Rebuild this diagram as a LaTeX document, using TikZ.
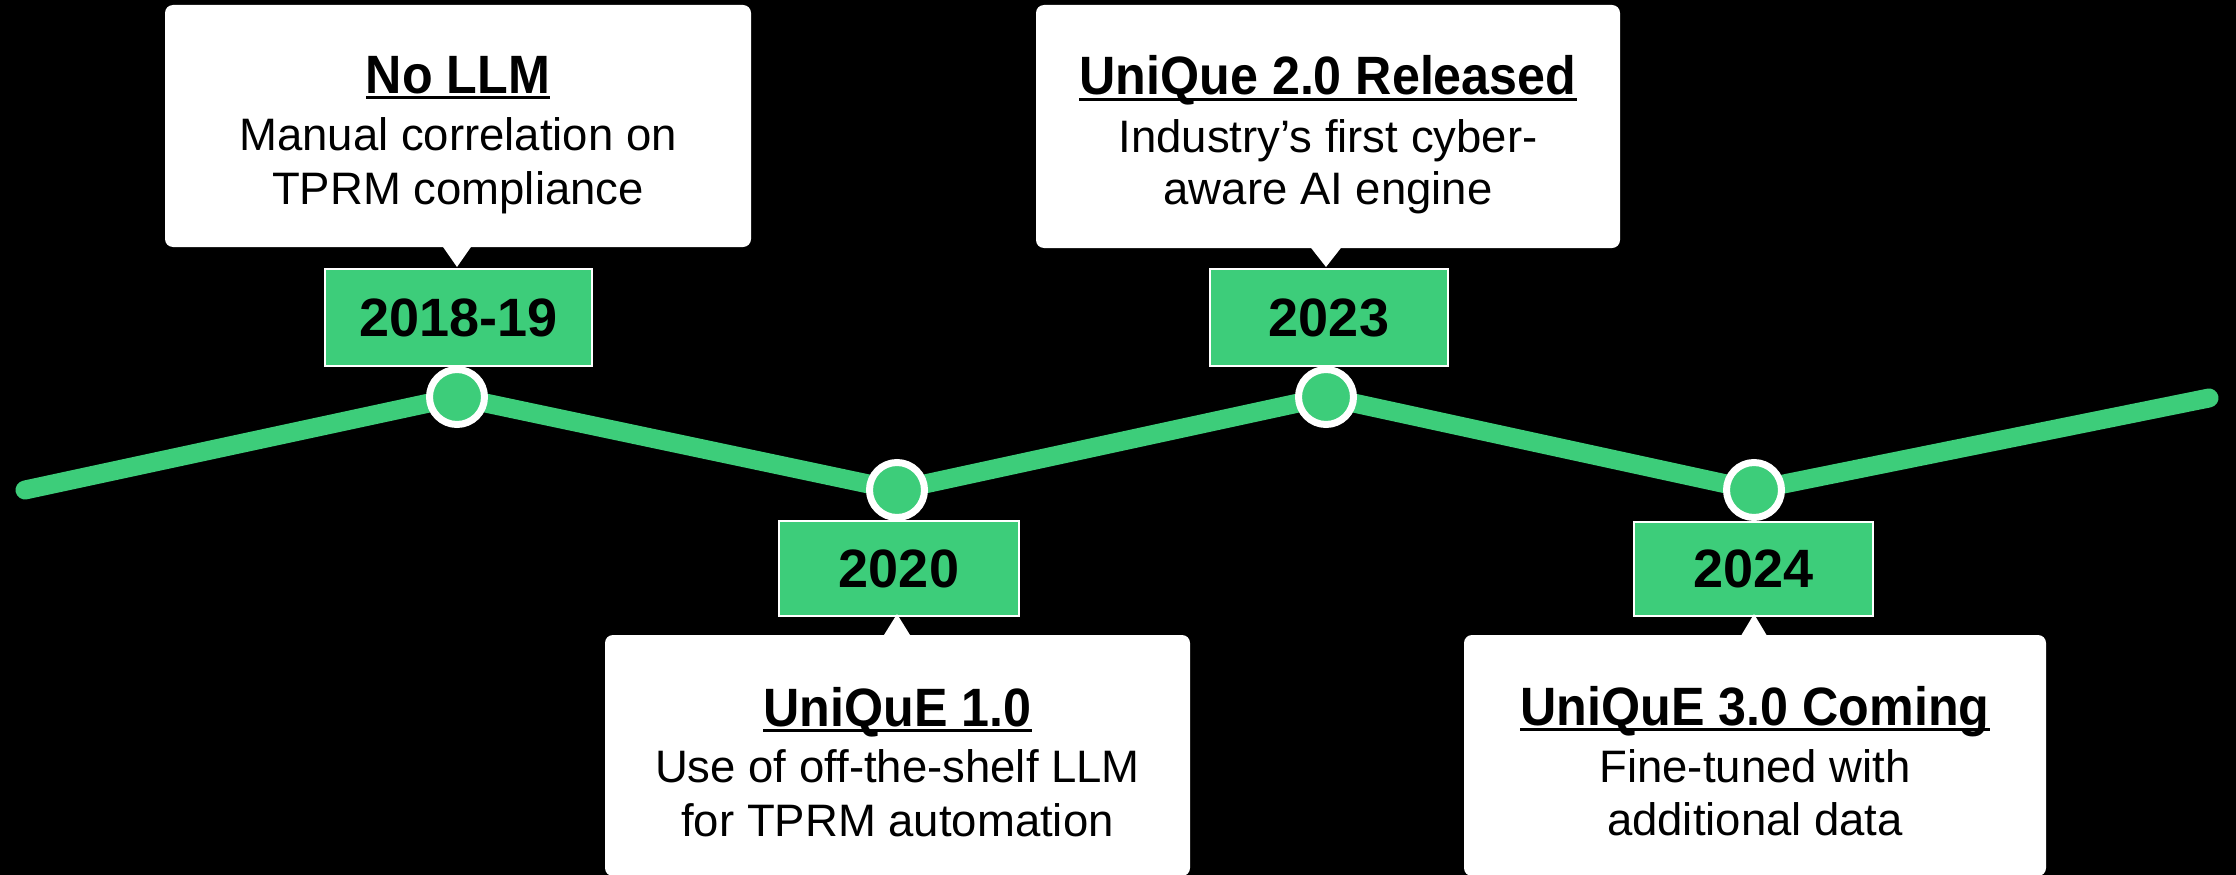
\documentclass[tikz,border=0pt]{standalone}
\usepackage{fontspec}
\setmainfont{Liberation Sans}
\newfontfamily\titlefont{Liberation Sans}[FakeStretch=0.93]
\usetikzlibrary{calc}
\definecolor{tlgreen}{RGB}{61,205,122}
\begin{document}
\begin{tikzpicture}[x=1pt,y=-1pt,
  callout/.style={fill=white, rounded corners=8pt, inner sep=0, draw=none},
  yearbox/.style={draw=white, line width=2pt, fill=tlgreen, inner sep=0, text=black,
    font=\bfseries\fontsize{54}{54}\selectfont},
  ttl/.style={inner sep=0, anchor=base, text=black, font=\titlefont\bfseries\fontsize{54}{54}\selectfont},
  body/.style={inner sep=0, anchor=base, text=black, font=\fontsize{45.5}{54}\selectfont},
  dot/.style={circle, fill=tlgreen, draw=white, line width=7pt, minimum size=55pt, inner sep=0},
  uline/.style={line width=2.5pt, black},
  pointer/.style={fill=white}]
\fill[black] (0,0) rectangle (2236,875);
\useasboundingbox (0,0) rectangle (2236,875);
% timeline
\coordinate (p0) at (25,490);
\coordinate (q1) at (457,397);
\coordinate (q2) at (897,490);
\coordinate (q3) at (1326,397);
\coordinate (q4) at (1754,490);
\coordinate (p5) at (2209,398);
\draw[tlgreen, line width=19pt, line cap=round, line join=round]
  (p0) -- (q1) -- (q2) -- (q3) -- (q4) -- (p5);
\node[dot] (d1) at (q1) {};
\node[dot] (d2) at (q2) {};
\node[dot] (d3) at (q3) {};
\node[dot] (d4) at (q4) {};
% year boxes
\node[yearbox, minimum width=267pt, minimum height=97pt] (y1) at (458.5,317.5) {2018-19};
\node[yearbox, minimum width=240pt, minimum height=95pt] (y2) at (899,568.5) {2020};
\node[yearbox, minimum width=238pt, minimum height=97pt] (y3) at (1329,317.5) {2023};
\node[yearbox, minimum width=239pt, minimum height=94pt] (y4) at (1753.5,569) {2024};
% callouts
\node[callout, minimum width=586pt, minimum height=242pt] (c1) at (458,126) {};
\node[callout, minimum width=584pt, minimum height=243pt] (c3) at (1328,126.5) {};
\node[callout, minimum width=585pt, minimum height=241pt] (c2) at (897.5,755.5) {};
\node[callout, minimum width=582pt, minimum height=241pt] (c4) at (1755,755.5) {};
% pointers
\fill[pointer] ($(c1.south -| d1)+(-14.5,-1)$) -- ($(c1.south -| d1)+(14.5,-1)$) -- ($(y1.north -| d1)+(0,-1)$) -- cycle;
\fill[pointer] ($(c3.south -| d3)+(-15.5,-1)$) -- ($(c3.south -| d3)+(15.5,-1)$) -- ($(y3.north -| d3)+(0,-1)$) -- cycle;
\fill[pointer] ($(c2.north -| d2)+(-13.5,1)$) -- ($(c2.north -| d2)+(13.5,1)$) -- ($(y2.south -| d2)+(0,-3)$) -- cycle;
\fill[pointer] ($(c4.north -| d4)+(-13,1)$) -- ($(c4.north -| d4)+(13,1)$) -- ($(y4.south -| d4)+(0,-3)$) -- cycle;
% texts box 1
\node[ttl] (t1) at (458,93) {No LLM};
\draw[uline] ([yshift=-4.5pt]t1.base west) -- ([yshift=-4.5pt]t1.base east);
\node[body] (b1a) at (458,150) {Manual correlation on};
\node[body] (b1b) at (458,204) {TPRM compliance};
% texts box 3
\node[ttl] (t3) at (1328,95) {UniQue 2.0 Released};
\draw[uline] ([yshift=-4.5pt]t3.base west) -- ([yshift=-4.5pt]t3.base east);
\node[body] (b3a) at (1328,152) {Industry’s first cyber-};
\node[body] (b3b) at (1328,204) {aware AI engine};
% texts box 2
\node[ttl] (t2) at (897.5,726) {UniQuE 1.0};
\draw[uline] ([yshift=-4.5pt]t2.base west) -- ([yshift=-4.5pt]t2.base east);
\node[body] (b2a) at (897.5,782) {Use of off-the-shelf LLM};
\node[body] (b2b) at (897.5,836) {for TPRM automation};
% texts box 4
\node[ttl] (t4) at (1755,725) {UniQuE 3.0 Coming};
\draw[uline] ([yshift=-4.5pt]t4.base west) -- ([yshift=-4.5pt]t4.base east);
\node[body] (b4a) at (1755,782) {Fine-tuned with};
\node[body] (b4b) at (1755,835) {additional data};
\end{tikzpicture}
\end{document}
